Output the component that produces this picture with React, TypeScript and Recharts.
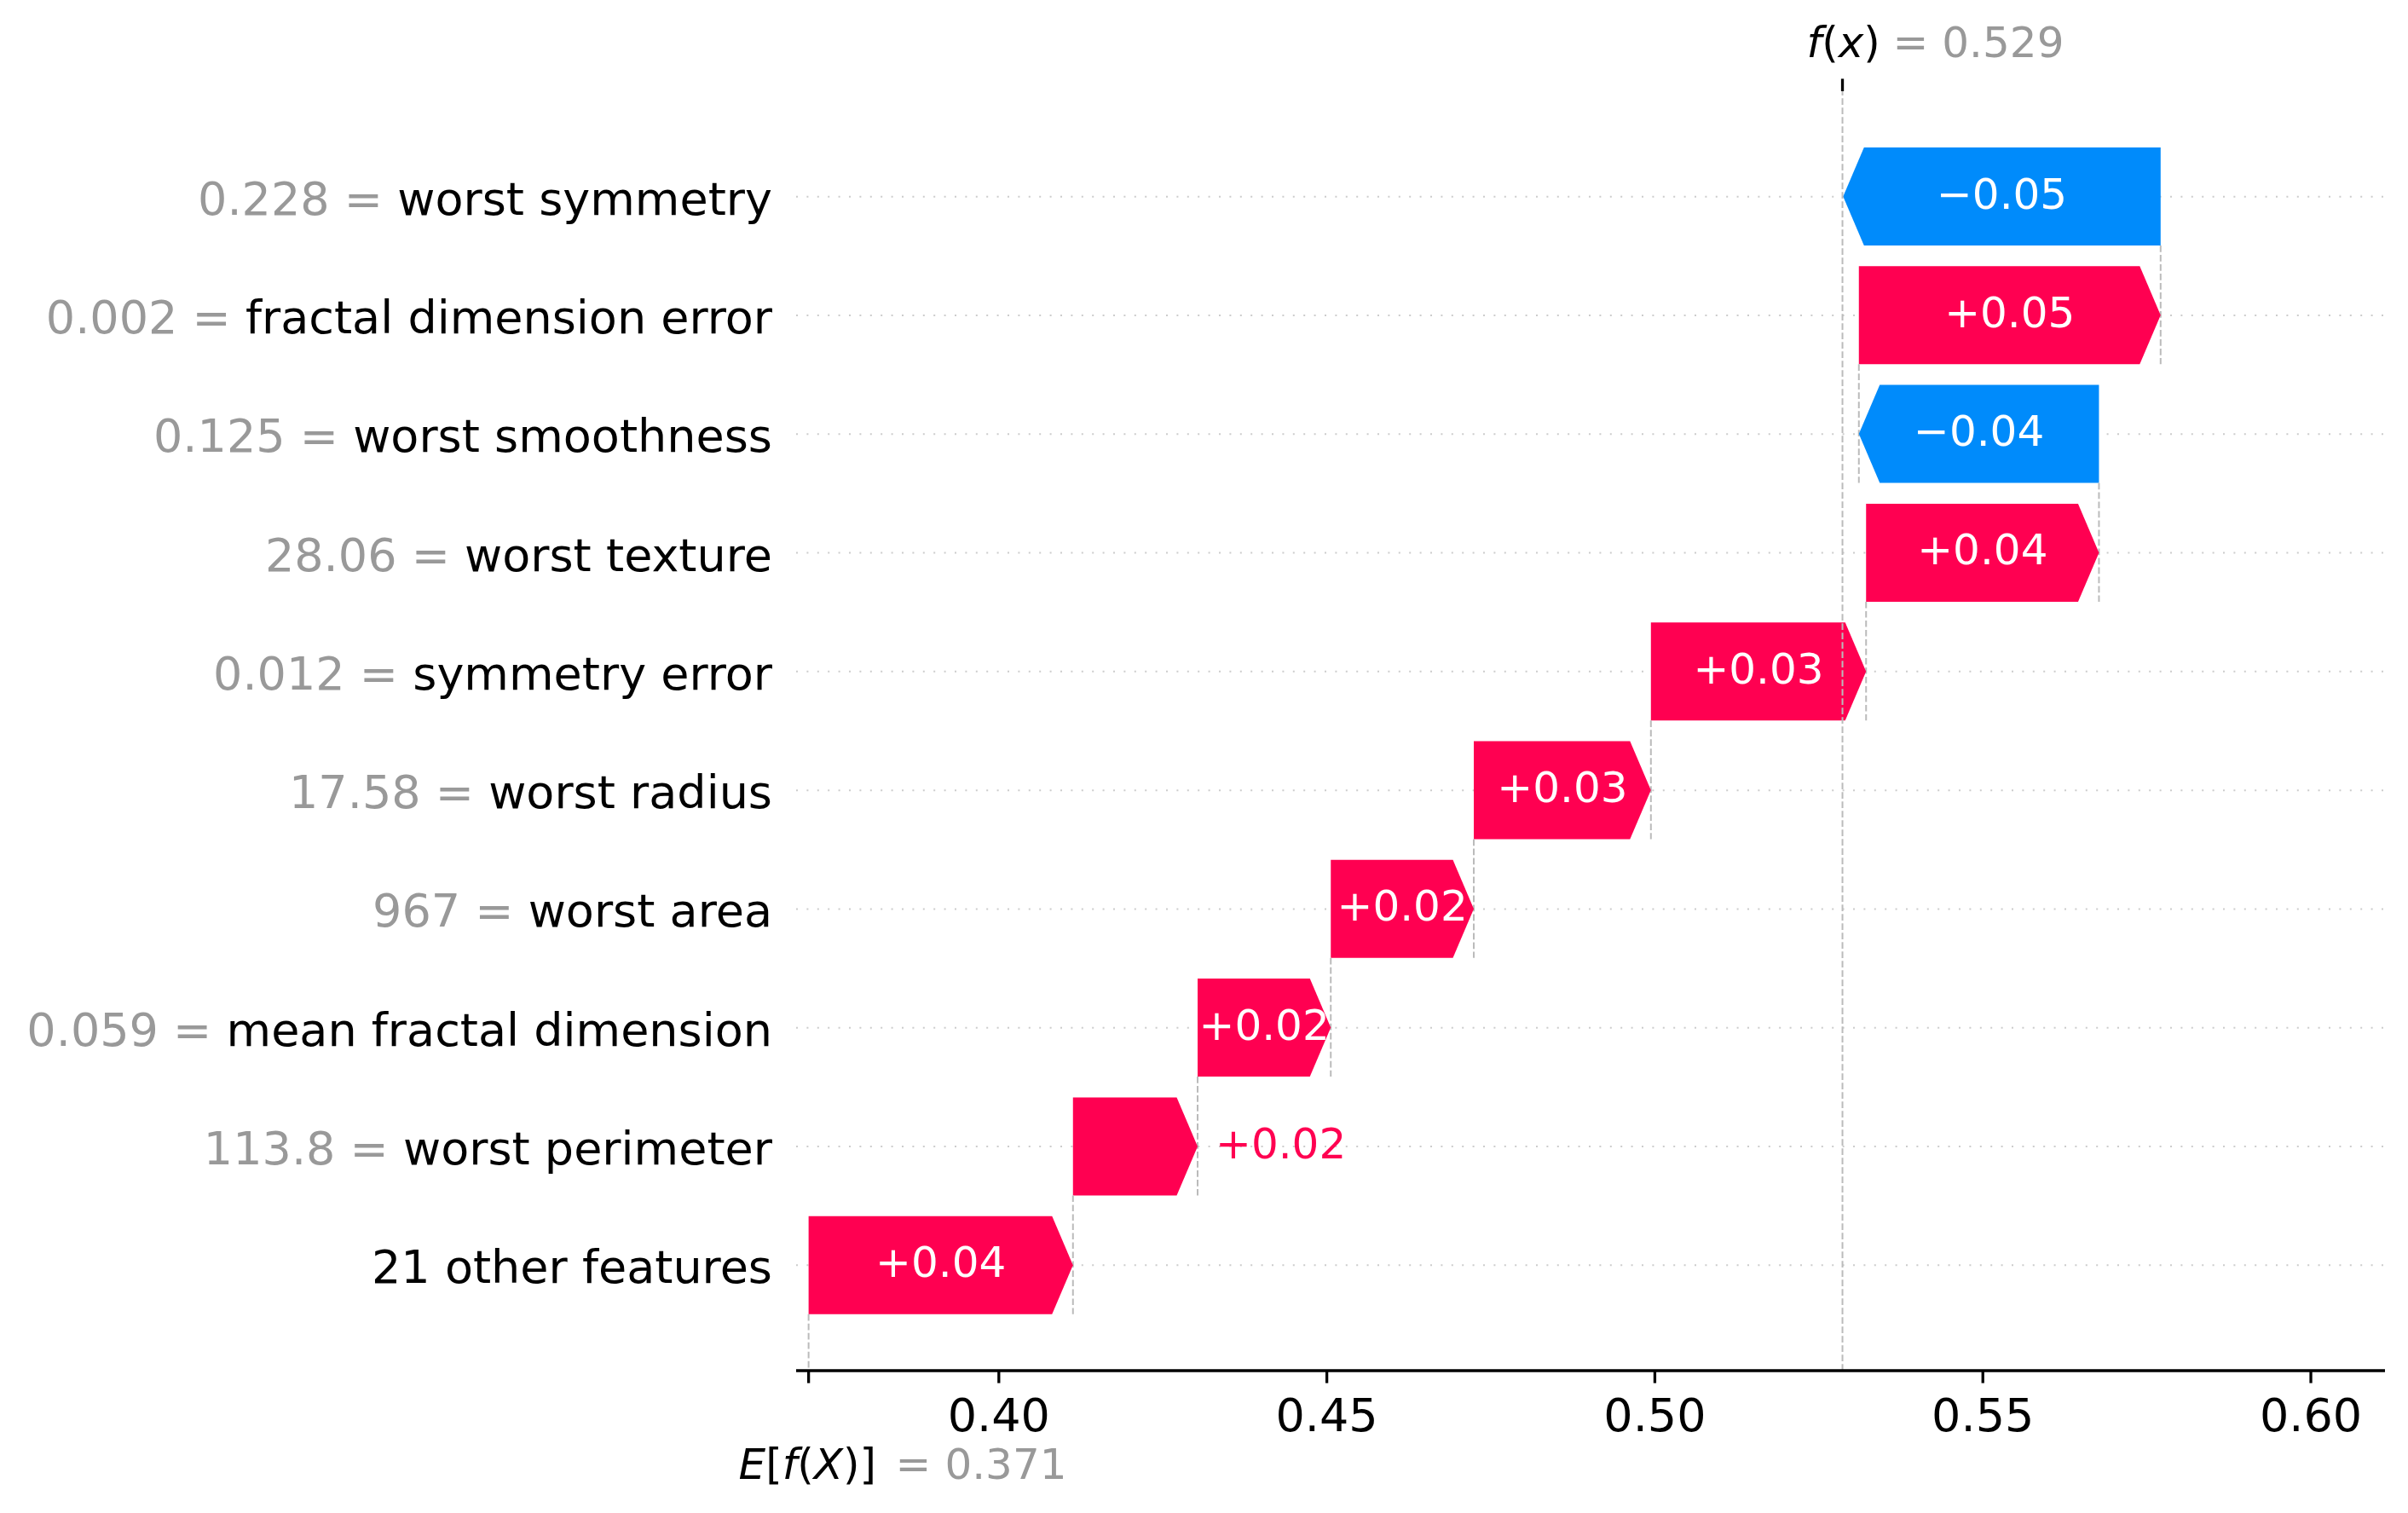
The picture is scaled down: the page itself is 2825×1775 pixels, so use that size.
import React from 'react'
import { Bar, BarChart, CartesianGrid, ReferenceLine, XAxis, YAxis } from 'recharts'

const featureNames = [
  'worst symmetry',
  'fractal dimension error',
  'worst smoothness',
  'worst texture',
  'symmetry error',
  'worst radius',
  'worst area',
  'mean fractal dimension',
  'worst perimeter',
  '21 other features',
]
const featureValues = ['0.228', '0.002', '0.125', '28.06', '0.012', '17.58', '967', '0.059', '113.8', '']
const shapValues = [-0.0484, 0.046, -0.0366, 0.0355, 0.0328, 0.027, 0.0218, 0.0203, 0.019, 0.0403]
const baseValue = 0.371
const fxValue = 0.5286
const xTicks = [0.4, 0.45, 0.5, 0.55, 0.6]
const xDomain = [0.3691, 0.6113]

const RED = '#ff0051'
const BLUE = '#008bfb'
const GRAY = '#999999'
const FONT = '"DejaVu Sans", sans-serif'

const W = 2825
const H = 1775
const TOP_AXIS_H = 107
const BOTTOM_AXIS_H = 167
const Y_AXIS_W = 934
const PAD = 54
const BAR_H = 115
const HEAD = 24.5
const ROW = (H - TOP_AXIS_H - BOTTOM_AXIS_H - 2 * PAD) / featureNames.length
const PLOT_BOTTOM = H - BOTTOM_AXIS_H
const DASH = { stroke: '#bbbbbb', strokeWidth: 2, strokeDasharray: '7.7 3.3' }

// waterfall: each row starts where the row below it ended
const rows: any[] = []
let acc = baseValue
for (let i = featureNames.length - 1; i >= 0; i--) {
  const start = acc
  acc += shapValues[i]
  rows[i] = { name: featureNames[i], value: featureValues[i], delta: shapValues[i], range: [start, acc] }
}

const charW: Record<string, number> = { '+': 0.838, '\u2212': 0.838, '.': 0.318 }
const textWidth = (s: string, size: number) =>
  [...s].reduce((w, c) => w + (charW[c] ?? 0.636), 0) * size

const fmt = (d: number) => (d >= 0 ? '+' : '\u2212') + Math.abs(d).toFixed(2)

function Arrow(props: any) {
  const { x, y, width, height, payload, index } = props
  const d = payload.delta
  const x1 = Math.min(x, x + width)
  const x2 = Math.max(x, x + width)
  const dir = d >= 0 ? 1 : -1
  const start = dir > 0 ? x1 : x2
  const end = dir > 0 ? x2 : x1
  const mid = y + height / 2
  const bottom = y + height
  const neck = end - dir * Math.min(HEAD, x2 - x1)
  const pts = [
    [start, y],
    [neck, y],
    [end, mid],
    [neck, bottom],
    [start, bottom],
  ]
  const color = dir > 0 ? RED : BLUE
  const label = fmt(d)
  const fits = textWidth(label, 50) < x2 - x1
  return (
    <g>
      {index > 0 && <line x1={end} x2={end} y1={bottom - ROW} y2={bottom} {...DASH} />}
      {index === rows.length - 1 && <line x1={start} x2={start} y1={bottom} y2={PLOT_BOTTOM} {...DASH} />}
      <polygon points={pts.map((p) => p.join(',')).join(' ')} fill={color} />
      {fits ? (
        <text x={(x1 + x2) / 2} y={mid + 14} textAnchor="middle" fontSize={50} fontFamily={FONT} fill="#fff">
          {label}
        </text>
      ) : (
        <text
          x={end + dir * 21}
          y={mid + 14}
          textAnchor={dir > 0 ? 'start' : 'end'}
          fontSize={50}
          fontFamily={FONT}
          fill={color}
        >
          {label}
        </text>
      )}
    </g>
  )
}

function FeatureTick({ x, y, payload }: any) {
  const row = rows.find((r) => r.name === payload.value)
  return (
    <text x={x} y={y + 21} textAnchor="end" fontSize={54} fontFamily={FONT} style={{ whiteSpace: 'pre' }}>
      {row && row.value ? <tspan fill={GRAY}>{row.value + ' = '}</tspan> : null}
      <tspan fill="#000">{payload.value}</tspan>
    </text>
  )
}

function BottomTick({ x, y, payload }: any) {
  if (payload.value === baseValue) {
    return (
      <g fontSize={50} fontFamily={FONT}>
        <text x={x - 82} y={y + 112} fill="#000">
          <tspan fontStyle="italic">E</tspan>
          <tspan>[</tspan>
          <tspan fontStyle="italic">f</tspan>
          <tspan>(</tspan>
          <tspan fontStyle="italic">X</tspan>
          <tspan>)]</tspan>
        </text>
        <text x={x + 102} y={y + 112} fill={GRAY} style={{ whiteSpace: 'pre' }}>
          {'= ' + baseValue.toFixed(3)}
        </text>
      </g>
    )
  }
  return (
    <text x={x} y={y + 56} textAnchor="middle" fontSize={54} fontFamily={FONT} fill="#000">
      {payload.value.toFixed(2)}
    </text>
  )
}

function TopTick({ x, y }: any) {
  return (
    <g fontSize={50} fontFamily={FONT}>
      <text x={x - 42} y={y - 25} fill="#000">
        <tspan fontStyle="italic">f</tspan>
        <tspan>(</tspan>
        <tspan fontStyle="italic">x</tspan>
        <tspan>)</tspan>
      </text>
      <text x={x + 59} y={y - 25} fill={GRAY} style={{ whiteSpace: 'pre' }}>
        {'= ' + fxValue.toFixed(3)}
      </text>
    </g>
  )
}

export default function App() {
  return (
    <div style={{ position: 'absolute', left: 0, top: 0, width: W, height: H, background: '#fff' }}>
      <BarChart
        width={W}
        height={H}
        data={rows}
        layout="vertical"
        margin={{ top: 0, right: 27, bottom: 0, left: 0 }}
      >
        <CartesianGrid
          vertical={false}
          syncWithTicks
          stroke="#cccccc"
          strokeWidth={2}
          strokeDasharray="2 10.4"
        />
        <XAxis
          type="number"
          domain={xDomain}
          allowDataOverflow
          ticks={[baseValue, ...xTicks]}
          interval={0}
          height={BOTTOM_AXIS_H}
          stroke="#000"
          tickSize={14.6}
          tickMargin={0}
          axisLine={{ stroke: '#000', strokeWidth: 3.3 }}
          tickLine={{ stroke: '#000', strokeWidth: 3.3 }}
          tick={<BottomTick />}
        />
        <XAxis
          xAxisId="top"
          orientation="top"
          type="number"
          domain={xDomain}
          allowDataOverflow
          ticks={[fxValue]}
          interval={0}
          height={TOP_AXIS_H}
          stroke="#000"
          tickSize={14.6}
          tickMargin={0}
          axisLine={false}
          tickLine={{ stroke: '#000', strokeWidth: 3.3 }}
          tick={<TopTick />}
        />
        <YAxis
          type="category"
          dataKey="name"
          width={Y_AXIS_W}
          padding={{ top: PAD, bottom: PAD }}
          axisLine={false}
          tickLine={false}
          tickSize={0}
          tickMargin={28}
          interval={0}
          tick={<FeatureTick />}
        />
        <ReferenceLine x={fxValue} {...DASH} />
        <Bar dataKey="range" barSize={BAR_H} isAnimationActive={false} shape={<Arrow />} />
      </BarChart>
    </div>
  )
}
